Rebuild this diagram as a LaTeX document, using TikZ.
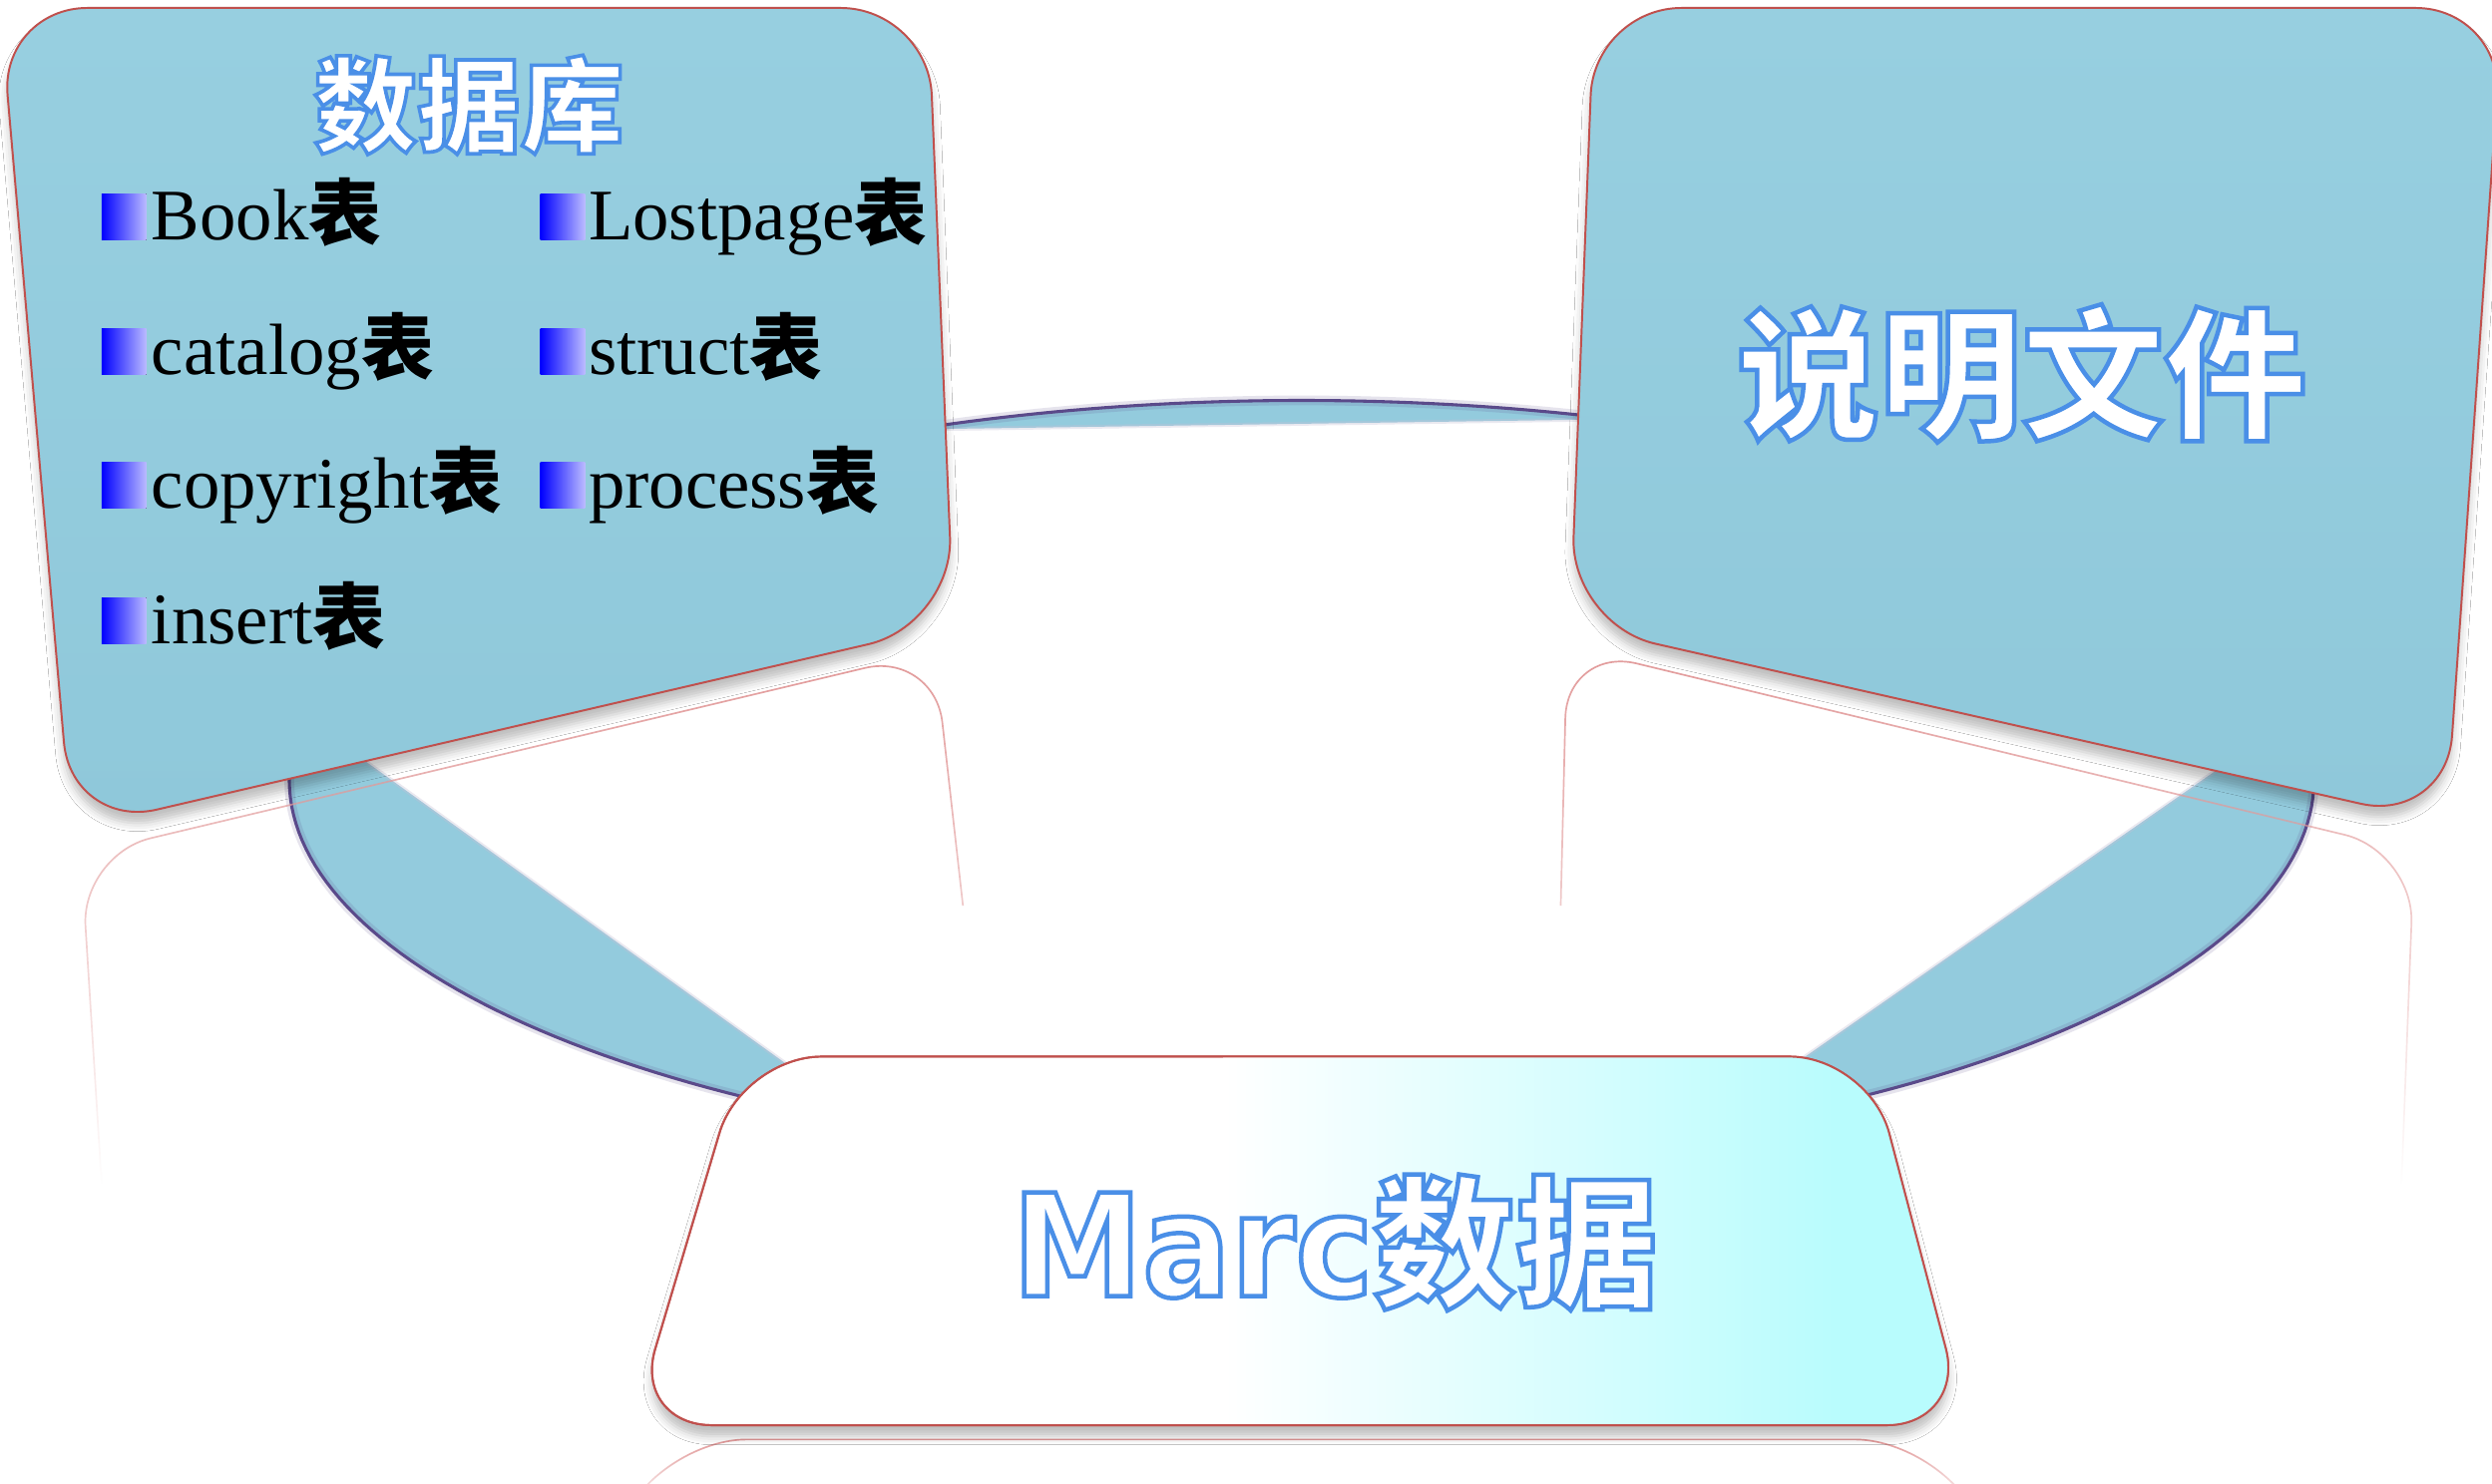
\documentclass[tikz,border=0pt]{standalone}
\usepackage{fontspec}
\setmainfont{Liberation Serif}
\newfontfamily\cjk{Noto Sans CJK SC}
\newfontfamily\dejavu{DejaVu Sans}[FakeStretch=0.92]
\usetikzlibrary{fadings,shadows.blur}

\definecolor{boxblue}{HTML}{8FC8DA}
\definecolor{boxbluetop}{HTML}{97CFE0}
\definecolor{bandblue}{HTML}{93CBDD}
\definecolor{edgered}{HTML}{C0504D}
\definecolor{arcpurple}{HTML}{5A4A8A}
\definecolor{reflpink}{HTML}{E29A9A}
\definecolor{marccyan}{HTML}{B8FCFD}
\definecolor{bulletlight}{HTML}{BBBBFF}

% white text with a blue outline (fill + stroke text rendering)
\newcommand\outlinetext[2]{\special{pdf:literal direct 0.29 0.56 0.906 RG #1 w 2 Tr}#2\special{pdf:literal direct 0 Tr}}
\newcommand\biao{{\cjk\bfseries 表}}

\tikzset{
  box/.style={draw=edgered, line width=0.7pt, rounded corners=1.1cm,
    top color=boxbluetop, bottom color=boxblue,
    blur shadow={shadow xshift=0pt, shadow yshift=-4pt, shadow blur radius=3pt, shadow opacity=25}},
  band/.style={fill=bandblue},
  arcedge/.style={draw=arcpurple, line width=1.1pt},
  arcglow/.style={draw=arcpurple, line width=3.5pt, opacity=0.15},
  inneredge/.style={draw=arcpurple!35, line width=1.4pt, opacity=0.35},
  refl/.style={draw=reflpink, line width=0.6pt, path fading=south},
  boxtitle/.style={text=white, inner sep=0pt},
  listitem/.style={anchor=base west, inner sep=0pt, font=\fontsize{26}{30}\selectfont},
  bulletsq/.style={left color=blue, right color=bulletlight},
}

\begin{document}
\begin{tikzpicture}[x=0.02cm, y=-0.02cm]
\useasboundingbox (0,0) rectangle (1568,934);
\fill[white] (0,0) rectangle (1568,934);

% ---- connecting bands (parts of one ellipse) ----
% top band
\fill[band] plot[domain=249:287, samples=40, variable=\t] ({819+637*cos(\t)},{491+239*sin(\t)}) -- (1005,264) -- (591,270) -- cycle;
\draw[inneredge] (591,270) -- (1005,264);
\draw[arcglow] plot[domain=249:287, samples=40, variable=\t] ({819+637*cos(\t)},{491+239*sin(\t)});
\draw[arcedge] plot[domain=249:287, samples=40, variable=\t] ({819+637*cos(\t)},{491+239*sin(\t)});
% left band
\fill[band] plot[domain=185:122, samples=50, variable=\t] ({819+637*cos(\t)},{491+239*sin(\t)}) -- (505,677) -- (220,472) -- cycle;
\draw[inneredge] (220,472) -- (505,677);
\draw[arcglow] plot[domain=185:122, samples=50, variable=\t] ({819+637*cos(\t)},{491+239*sin(\t)});
\draw[arcedge] plot[domain=185:122, samples=50, variable=\t] ({819+637*cos(\t)},{491+239*sin(\t)});
% right band
\fill[band] plot[domain=-5:58, samples=50, variable=\t] ({819+637*cos(\t)},{491+239*sin(\t)}) -- (1123,674) -- (1400,481) -- cycle;
\draw[inneredge] (1400,481) -- (1123,674);
\draw[arcglow] plot[domain=-5:58, samples=50, variable=\t] ({819+637*cos(\t)},{491+239*sin(\t)});
\draw[arcedge] plot[domain=-5:58, samples=50, variable=\t] ({819+637*cos(\t)},{491+239*sin(\t)});

% ---- reflections ----
\draw[refl, rounded corners=0.9cm] (64,745) -- (51,538) -- (588,410) -- (606,570);
\draw[refl, rounded corners=0.9cm] (982,570) -- (986,407) -- (1519,536) -- (1511,745);
\draw[refl, rounded corners=1cm] (396,950) -- (420,906) -- (1218,906) -- (1242,950);

% ---- boxes ----
\path[box] (0,5) -- (584,5) -- (600,393) -- (45,522) -- cycle;
\path[box] (1003,5) -- (1575,5) -- (1539,518) -- (988,393) -- cycle;

\path[draw=edgered, line width=0.7pt, fill=white, rounded corners=1cm,
  blur shadow={shadow xshift=0pt, shadow yshift=-4pt, shadow blur radius=3pt, shadow opacity=25}]
  (467,665) -- (1176,665) -- (1237,897) -- (398,897) -- cycle;
\begin{scope}
  \clip[rounded corners=1cm] (467,665) -- (1176,665) -- (1237,897) -- (398,897) -- cycle;
  \fill[left color=white, right color=marccyan] (770,650) rectangle (1160,905);
  \fill[marccyan] (1159,650) rectangle (1245,905);
\end{scope}
\draw[draw=edgered, line width=0.7pt, rounded corners=1cm]
  (467,665) -- (1176,665) -- (1237,897) -- (398,897) -- cycle;

% ---- texts ----
\node[boxtitle, font=\cjk\bfseries\fontsize{37}{40}\selectfont] (dbtitle) at (295,66) {\outlinetext{1.3}{数据库}};
\node[boxtitle, font=\cjk\bfseries\fontsize{51}{55}\selectfont] (doctitle) at (1272,235) {\outlinetext{1.6}{说明文件}};
\node[boxtitle, font=\fontsize{51}{55}\selectfont] (marctitle) at (840,782) {\outlinetext{1.6}{{\dejavu\bfseries Marc}{\cjk\bfseries 数据}}};

% list items
\fill[bulletsq] (64,122) rectangle (92,151);
\node[listitem] (book) at (95,151) {Book\biao};
\fill[bulletsq] (64,207) rectangle (92,236);
\node[listitem] (catalog) at (95,236) {catalog\biao};
\fill[bulletsq] (64,291) rectangle (92,320);
\node[listitem] (copyright) at (95,320) {copyright\biao};
\fill[bulletsq] (64,376) rectangle (92,405);
\node[listitem] (insert) at (95,405) {insert\biao};
\fill[bulletsq] (340,122) rectangle (368,151);
\node[listitem] (lostpage) at (370,151) {Lostpage\biao};
\fill[bulletsq] (340,207) rectangle (368,236);
\node[listitem] (struct) at (370,236) {struct\biao};
\fill[bulletsq] (340,291) rectangle (368,320);
\node[listitem] (process) at (370,320) {process\biao};
\end{tikzpicture}
\end{document}
